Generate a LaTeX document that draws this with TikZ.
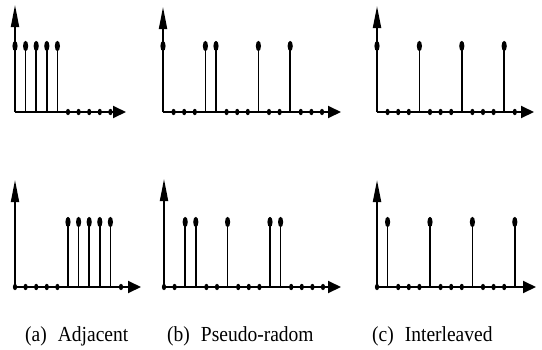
\documentclass[tikz,border=0pt]{standalone}
\usepackage{graphicx}
\usepackage{fontspec}
\setmainfont{Liberation Serif}
\usetikzlibrary{arrows.meta}
\tikzset{
  axisline/.style={line width=2pt},
  haxis/.style={axisline,-{Triangle[length=13pt,width=12pt]}},
  vaxis/.style={axisline,-{Triangle[length=22pt,width=8pt]}},
  stemline/.style={line width=1.5pt},
  lbl/.style={anchor=base west,inner sep=0pt,font=\fontsize{19.5}{22}\selectfont}
}
% #1 x0, #2 baseline y, #3 x tip, #4 y tip, #5 stems, #6 dots, #7 ball y
\newcommand\stempanel[7]{%
  \coordinate (o) at (#1,#2);
  \coordinate (xt) at (#3,#2);
  \coordinate (yt) at (#1,#4);
  \draw[haxis] (o) -- (xt);
  \draw[vaxis] (o) -- (yt);
  \foreach \i in {#5} {
    \coordinate (sb) at ({#1+10.6*\i},#2);
    \coordinate (st) at ({#1+10.6*\i},#7);
    \draw[stemline] (sb) -- (st);
    \fill (st) ellipse[x radius=2.6pt,y radius=5.2pt];
  }
  \foreach \i in {#6} {
    \fill ({#1+10.6*\i},#2) ellipse[x radius=2.1pt,y radius=3.2pt];
  }
}
\begin{document}
\begin{tikzpicture}[x=1pt,y=-1pt]
\useasboundingbox (0,0) rectangle (542,349);
% top row
\stempanel{15}{112}{126}{5}{0,1,2,3,4}{5,6,7,8,9}{46}
\stempanel{163}{112}{341}{7}{0,4,5,9,12}{1,2,3,6,7,8,10,11,13,14,15}{46}
\stempanel{377}{112}{534}{6}{0,4,8,12}{1,2,3,5,6,7,9,10,11,13}{46}
% bottom row
\stempanel{15}{287}{141}{180}{5,6,7,8,9}{0,1,2,3,4,10}{222}
\stempanel{164}{287}{341}{179}{2,3,6,10,11}{0,1,4,5,7,8,9,12,13,14,15}{222}
\stempanel{377}{287}{536}{180}{1,5,9,13}{0,2,3,4,6,7,8,10,11,12}{222}
% labels
\node[lbl] (la) at (25,341.5) {\scalebox{1}[1.1]{(a)\hspace{11pt}Adjacent}};
\node[lbl] (lb) at (167,341.5) {\scalebox{1}[1.1]{(b)\hspace{11pt}Pseudo-radom}};
\node[lbl] (lc) at (372,341.5) {\scalebox{1}[1.1]{(c)\hspace{11pt}Interleaved}};
\end{tikzpicture}
\end{document}
